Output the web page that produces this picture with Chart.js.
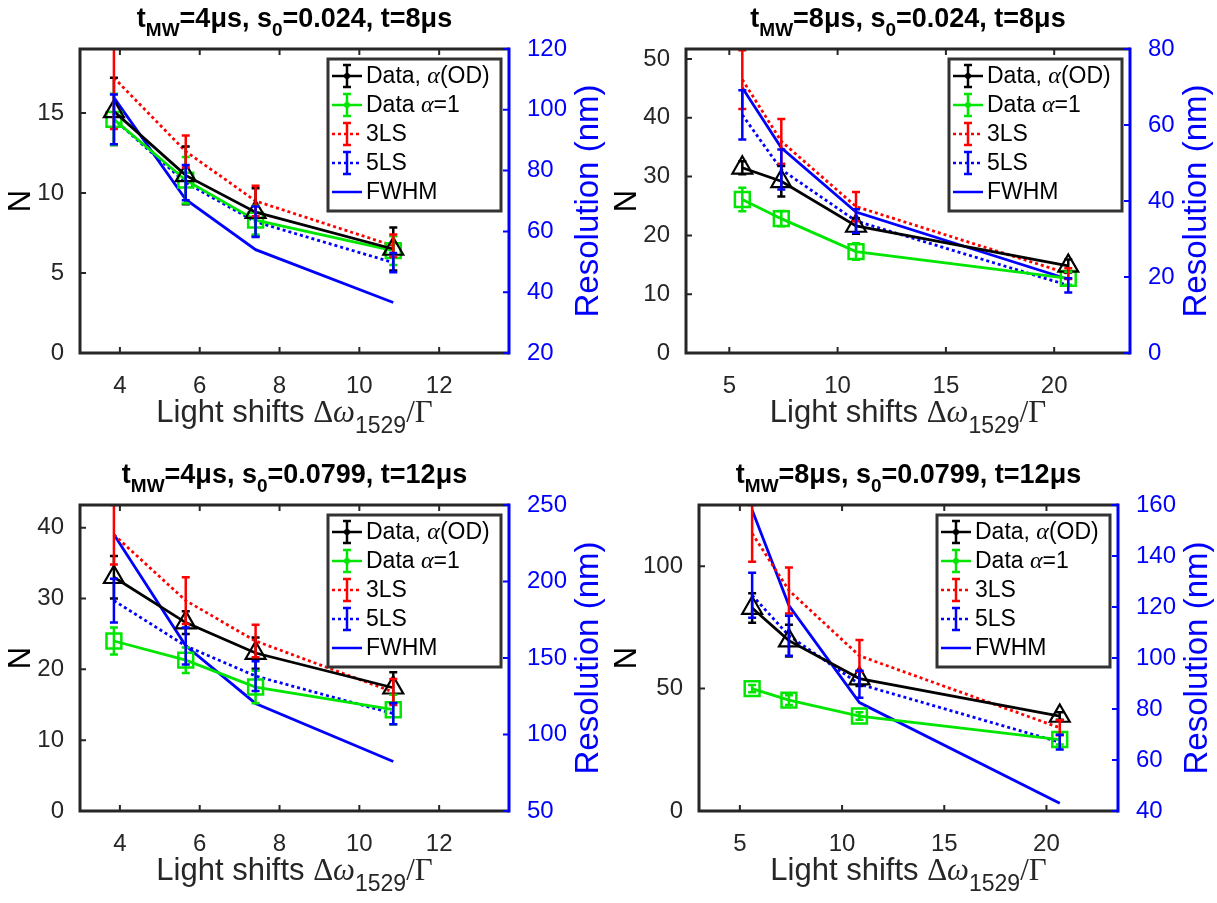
<!DOCTYPE html>
<html>
<head>
<meta charset="utf-8">
<script src="https://cdn.jsdelivr.net/npm/chart.js@4/dist/chart.umd.min.js"></script>
<style>
  body { margin: 0; background: #fff; width: 1217px; height: 903px; position: relative; overflow: hidden; }
  canvas { position: absolute; }
</style>
</head>
<body>
<canvas id="c1" width="608" height="451" style="left:0;top:0"></canvas>
<canvas id="c2" width="609" height="451" style="left:608px;top:0"></canvas>
<canvas id="c3" width="608" height="452" style="left:0;top:451px"></canvas>
<canvas id="c4" width="609" height="452" style="left:608px;top:451px"></canvas>
<script>
// light shifts (x) for the two pulse lengths
const xShort = [3.85, 5.65, 7.4, 10.85]
const xLong = [5.6, 7.4, 10.85, 20.65]

// panel 1: tMW=4us, s0=0.024, t=8us
const p1Od = [15.1, 11.1, 8.8, 6.5]
const p1OdErr = [2.1, 1.8, 1.5, 1.35]
const p1One = [14.6, 10.8, 8.3, 6.4]
const p1OneErr = [1.6, 1.45, 0.9, 0.9]
const p1Ls3 = [17.2, 12.6, 9.5, 6.7]
const p1Ls3Err = [3.2, 1.0, 0.95, 0.7]
const p1Ls5 = [14.6, 10.65, 8.2, 5.65]
const p1Ls5Err = [1.55, 1.1, 0.95, 0.6]
const p1Fwhm = [104, 70.5, 54, 36.6]

// panel 2: tMW=8us, s0=0.024, t=8us
const p2Od = [31.5, 29.2, 21.6, 14.8]
const p2OdErr = [1.1, 2.6, 1.3, 1.1]
const p2One = [26.1, 22.85, 17.25, 12.7]
const p2OneErr = [2.0, 1.3, 1.4, 1.1]
const p2Ls3 = [46.5, 36.0, 24.9, 13.5]
const p2Ls3Err = [5.0, 3.8, 2.5, 0.9]
const p2Ls5 = [40.5, 31.2, 22.45, 11.5]
const p2Ls5Err = [4.2, 3.4, 2.0, 1.2]
const p2Fwhm = [69.8, 54.0, 37.1, 19.4]

// panel 3: tMW=4us, s0=0.0799, t=12us
const p3Od = [33.0, 26.6, 22.3, 17.4]
const p3OdErr = [3.0, 1.6, 2.2, 2.2]
const p3One = [24.0, 21.3, 17.5, 14.3]
const p3OneErr = [1.9, 1.8, 2.3, 2.1]
const p3Ls3 = [39.0, 29.7, 24.0, 16.8]
const p3Ls3Err = [4.2, 3.3, 2.3, 1.85]
const p3Ls5 = [29.7, 23.3, 19.05, 13.75]
const p3Ls5Err = [3.1, 2.6, 2.1, 1.5]
const p3Fwhm = [230.7, 158, 120.3, 82.4]

// panel 4: tMW=8us, s0=0.0799, t=12us
const p4Od = [82.9, 69.6, 54.1, 38.8]
const p4OdErr = [6.0, 6.5, 3.0, 1.5]
const p4One = [50.0, 45.3, 38.8, 29.2]
const p4OneErr = [1.5, 2.0, 1.5, 2.0]
const p4Ls3 = [113.4, 90.1, 63.4, 34.0]
const p4Ls3Err = [11.6, 9.4, 6.5, 3.1]
const p4Ls5 = [88.1, 71.6, 51.8, 28.1]
const p4Ls5Err = [9.2, 8.2, 5.5, 3.0]
const p4Fwhm = [158, 120.6, 82.5, 43.0]

const legendLabels = ['Data, α(OD)', 'Data α=1', '3LS', '5LS', 'FWHM']

const SANS = '"Liberation Sans", Arial, sans-serif'
const SERIF = '"Liberation Serif", "DejaVu Serif", serif'
const AXIS = '#262626'
const GREEN = '#00e600'

function pts(xs, ys) {
    return xs.map((x, i) => ({ x: x, y: ys[i] }))
}

// draw a row of text pieces with different fonts (subscripts etc.)
function richText(ctx, parts, x, y, center) {
    let w = 0
    parts.forEach(p => { ctx.font = p.font; p.w = ctx.measureText(p.text).width; w += p.w })
    let cx = center ? x - w / 2 : x
    parts.forEach(p => {
        ctx.font = p.font
        ctx.fillText(p.text, cx, y + (p.dy || 0))
        cx += p.w
    })
}

function errorBar(ctx, x, y0, y1, cap) {
    ctx.beginPath()
    ctx.moveTo(x, y0); ctx.lineTo(x, y1)
    ctx.moveTo(x - cap, y0); ctx.lineTo(x + cap, y0)
    ctx.moveTo(x - cap, y1); ctx.lineTo(x + cap, y1)
    ctx.stroke()
}

const decor = {
    id: 'decor',
    afterDatasetsDraw(chart, args, opts) {
        const ctx = chart.ctx
        const a = chart.chartArea
        const xs = chart.scales.x, yl = chart.scales.y, yr = chart.scales.y1

        // error bars, clipped to the axes
        ctx.save()
        ctx.beginPath(); ctx.rect(a.left, a.top, a.right - a.left, a.bottom - a.top); ctx.clip()
        chart.data.datasets.forEach((ds, i) => {
            if (!ds.errors) return
            const ys = chart.scales[ds.yAxisID || 'y']
            ctx.strokeStyle = ds.borderColor
            ctx.lineWidth = 2.5
            ds.data.forEach((p, j) => {
                const px = xs.getPixelForValue(p.x)
                errorBar(ctx, px, ys.getPixelForValue(p.y - ds.errors[j]), ys.getPixelForValue(p.y + ds.errors[j]), 4)
            })
        })
        ctx.restore()

        // box + inward ticks
        ctx.save()
        ctx.lineWidth = 3
        ctx.strokeStyle = AXIS
        ctx.beginPath()
        ctx.moveTo(a.right, a.top); ctx.lineTo(a.left, a.top); ctx.lineTo(a.left, a.bottom); ctx.lineTo(a.right, a.bottom)
        ctx.stroke()
        ctx.lineWidth = 2
        ctx.beginPath()
        xs.ticks.forEach(t => {
            const px = xs.getPixelForValue(t.value)
            ctx.moveTo(px, a.bottom); ctx.lineTo(px, a.bottom - 6)
            ctx.moveTo(px, a.top); ctx.lineTo(px, a.top + 6)
        })
        yl.ticks.forEach(t => {
            const py = yl.getPixelForValue(t.value)
            ctx.moveTo(a.left, py); ctx.lineTo(a.left + 6, py)
        })
        ctx.stroke()
        ctx.strokeStyle = '#0000ff'
        ctx.lineWidth = 3
        ctx.beginPath(); ctx.moveTo(a.right, a.top - 1.5); ctx.lineTo(a.right, a.bottom + 1.5); ctx.stroke()
        ctx.lineWidth = 2
        ctx.beginPath()
        yr.ticks.forEach(t => {
            const py = yr.getPixelForValue(t.value)
            ctx.moveTo(a.right, py); ctx.lineTo(a.right - 6, py)
        })
        ctx.stroke()

        // legend
        const bw = 173, bh = 152
        const bx = a.right - 8 - bw, by = a.top + 10
        ctx.fillStyle = '#fff'
        ctx.fillRect(bx, by, bw, bh)
        ctx.strokeStyle = '#333'
        ctx.lineWidth = 3
        ctx.strokeRect(bx, by, bw, bh)
        chart.data.datasets.forEach((ds, i) => {
            const ry = by + 17 + i * 29
            ctx.strokeStyle = ds.borderColor
            ctx.lineWidth = 2.5
            ctx.setLineDash(ds.borderDash || [])
            ctx.beginPath(); ctx.moveTo(bx + 4, ry); ctx.lineTo(bx + 34, ry); ctx.stroke()
            ctx.setLineDash([])
            if (ds.errors) errorBar(ctx, bx + 19, ry - 11, ry + 11, 4)
            if (i < 2) {
                ctx.fillStyle = ds.borderColor
                ctx.beginPath(); ctx.arc(bx + 19, ry, 3, 0, Math.PI * 2); ctx.fill()
            }
            ctx.fillStyle = '#000'
            ctx.textBaseline = 'middle'
            const lab = ds.label
            const k = lab.indexOf('α')
            const parts = k < 0 ? [{ text: lab, font: '23px ' + SANS }] : [
                { text: lab.slice(0, k), font: '23px ' + SANS },
                { text: 'α', font: 'italic 24px ' + SERIF },
                { text: lab.slice(k + 1), font: '23px ' + SANS }
            ]
            richText(ctx, parts, bx + 38, ry + 1, false)
        })

        // title
        const cx = (a.left + a.right) / 2
        ctx.fillStyle = '#000'
        ctx.textBaseline = 'alphabetic'
        richText(ctx, [
            { text: 't', font: 'bold 27px ' + SANS },
            { text: 'MW', font: 'bold 19px ' + SANS, dy: 9 },
            { text: '=' + opts.tmw + ', s', font: 'bold 27px ' + SANS },
            { text: '0', font: 'bold 19px ' + SANS, dy: 9 },
            { text: '=' + opts.s0 + ', t=' + opts.t, font: 'bold 27px ' + SANS }
        ], cx, a.top - 22, true)

        // x label
        ctx.fillStyle = AXIS
        richText(ctx, [
            { text: 'Light shifts ', font: '31px ' + SANS },
            { text: 'Δ', font: '31px ' + SERIF },
            { text: 'ω', font: 'italic 31px ' + SERIF },
            { text: '1529', font: '23px ' + SANS, dy: 11 },
            { text: '/Γ', font: '31px ' + SERIF }
        ], cx, a.bottom + 69, true)

        // y labels
        ctx.font = '24px ' + SANS
        const wl = Math.max(...yl.ticks.map(t => ctx.measureText(String(t.label)).width))
        const wr = Math.max(...yr.ticks.map(t => ctx.measureText(String(t.label)).width))
        const cy = (a.top + a.bottom) / 2
        ctx.textAlign = 'center'
        ctx.textBaseline = 'middle'
        ctx.save()
        ctx.translate(a.left - 8 - wl - 24, cy); ctx.rotate(-Math.PI / 2)
        ctx.font = '31px ' + SANS; ctx.fillStyle = '#000'
        ctx.fillText('N', 0, 0)
        ctx.restore()
        ctx.save()
        ctx.translate(a.right + 10 + wr + 30, cy); ctx.rotate(-Math.PI / 2)
        ctx.font = '33px ' + SANS; ctx.fillStyle = '#0000ff'
        ctx.fillText('Resolution (nm)', 0, 0)
        ctx.restore()
        ctx.restore()
    }
}

function makePanel(id, p) {
    const datasets = [
        { label: legendLabels[0], data: pts(p.xs, p.od), errors: p.odErr, borderColor: '#000', borderWidth: 2.8,
          pointStyle: 'triangle', pointRadius: 11.5, pointBorderWidth: 2.2, pointBackgroundColor: 'rgba(0,0,0,0)', pointBorderColor: '#000' },
        { label: legendLabels[1], data: pts(p.xs, p.one), errors: p.oneErr, borderColor: GREEN, borderWidth: 2.8,
          pointStyle: 'rect', pointRadius: 10.5, pointBorderWidth: 2.5, pointBackgroundColor: 'rgba(0,0,0,0)', pointBorderColor: GREEN },
        { label: legendLabels[2], data: pts(p.xs, p.ls3), errors: p.ls3Err, borderColor: '#ff0000', borderWidth: 2.8,
          borderDash: [3, 3], pointRadius: 0 },
        { label: legendLabels[3], data: pts(p.xs, p.ls5), errors: p.ls5Err, borderColor: '#0000ff', borderWidth: 2.8,
          borderDash: [3, 3], pointRadius: 0 },
        { label: legendLabels[4], data: pts(p.xs, p.fwhm), yAxisID: 'y1', borderColor: '#0000ff', borderWidth: 2.8, pointRadius: 0 }
    ]
    const m = p.margin
    const tickFont = { family: SANS, size: 24 }
    return new Chart(document.getElementById(id), {
        type: 'line',
        data: { datasets: datasets },
        options: {
            responsive: false,
            animation: false,
            devicePixelRatio: 1,
            events: [],
            layout: { padding: { top: m.t, left: 0, right: 0, bottom: 0 }, autoPadding: false },
            plugins: {
                legend: { display: false },
                tooltip: { enabled: false },
                decor: { tmw: p.tmw, s0: p.s0, t: p.t }
            },
            scales: {
                x: {
                    type: 'linear', min: p.xMin, max: p.xMax,
                    ticks: { stepSize: p.xStep, includeBounds: false, color: AXIS, font: tickFont, padding: 11, maxRotation: 0 },
                    grid: { display: false }, border: { display: false },
                    afterFit: s => { s.height = m.b }
                },
                y: {
                    position: 'left', min: 0, max: p.yMax,
                    ticks: { stepSize: p.yStep, includeBounds: false, color: AXIS, font: tickFont, padding: 8 },
                    grid: { display: false }, border: { display: false },
                    afterFit: s => { s.width = m.l }
                },
                y1: {
                    position: 'right', min: p.rMin, max: p.rMax,
                    ticks: { stepSize: p.rStep, includeBounds: false, color: '#0000ff', font: tickFont, padding: 10 },
                    grid: { display: false }, border: { display: false },
                    afterFit: s => { s.width = m.r }
                }
            }
        },
        plugins: [decor]
    })
}

makePanel('c1', {
    xs: xShort, od: p1Od, odErr: p1OdErr, one: p1One, oneErr: p1OneErr, ls3: p1Ls3, ls3Err: p1Ls3Err,
    ls5: p1Ls5, ls5Err: p1Ls5Err, fwhm: p1Fwhm,
    xMin: 3, xMax: 13.75, xStep: 2, yMax: 19, yStep: 5, rMin: 20, rMax: 120, rStep: 20,
    tmw: '4μs', s0: '0.024', t: '8μs', margin: { l: 80, r: 99, t: 49, b: 98 }
})
makePanel('c2', {
    xs: xLong, od: p2Od, odErr: p2OdErr, one: p2One, oneErr: p2OneErr, ls3: p2Ls3, ls3Err: p2Ls3Err,
    ls5: p2Ls5, ls5Err: p2Ls5Err, fwhm: p2Fwhm,
    xMin: 3, xMax: 23.5, xStep: 5, yMax: 51.7, yStep: 10, rMin: 0, rMax: 80, rStep: 20,
    tmw: '8μs', s0: '0.024', t: '8μs', margin: { l: 78, r: 87, t: 49, b: 98 }
})
makePanel('c3', {
    xs: xShort, od: p3Od, odErr: p3OdErr, one: p3One, oneErr: p3OneErr, ls3: p3Ls3, ls3Err: p3Ls3Err,
    ls5: p3Ls5, ls5Err: p3Ls5Err, fwhm: p3Fwhm,
    xMin: 3, xMax: 13.75, xStep: 2, yMax: 43.2, yStep: 10, rMin: 50, rMax: 250, rStep: 50,
    tmw: '4μs', s0: '0.0799', t: '12μs', margin: { l: 80, r: 99, t: 54, b: 92 }
})
makePanel('c4', {
    xs: xLong, od: p4Od, odErr: p4OdErr, one: p4One, oneErr: p4OneErr, ls3: p4Ls3, ls3Err: p4Ls3Err,
    ls5: p4Ls5, ls5Err: p4Ls5Err, fwhm: p4Fwhm,
    xMin: 3, xMax: 23.5, xStep: 5, yMax: 125, yStep: 50, rMin: 40, rMax: 160, rStep: 20,
    tmw: '8μs', s0: '0.0799', t: '12μs', margin: { l: 91, r: 99, t: 54, b: 92 }
})
</script>
</body>
</html>
